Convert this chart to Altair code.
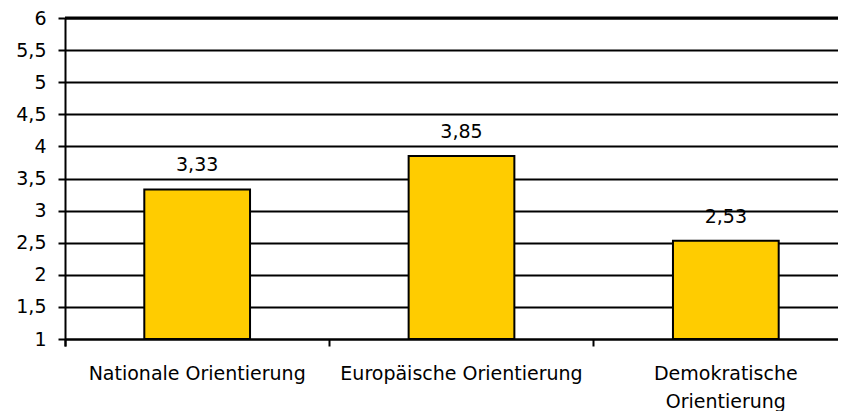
import altair as alt
import pandas as pd

categories = ["Nationale Orientierung", "Europäische Orientierung", "Demokratische Orientierung"]
values = [3.33, 3.85, 2.53]
y_ticks = [1, 1.5, 2, 2.5, 3, 3.5, 4, 4.5, 5, 5.5, 6]

df = pd.DataFrame({"cat": categories, "value": values})

FONT = "DejaVu Sans"
FS = 19

x_axis = alt.Axis(
    title=None,
    labelAngle=0,
    bandPosition=0,
    tickExtra=True,
    ticks=True,
    tickSize=7,
    tickWidth=2,
    tickColor="black",
    domainColor="black",
    domainWidth=2,
    labelFont=FONT,
    labelFontSize=FS,
    labelColor="black",
    labelPadding=18,
    labelLineHeight=28.5,
    labelLimit=400,
    labelOverlap=False,
    grid=False,
    labelExpr="datum.label == 'Demokratische Orientierung' ? ['Demokratische', 'Orientierung'] : datum.label",
)

x_scale = alt.Scale(range=[0, 793], paddingInner=0, paddingOuter=0)

y_axis = alt.Axis(
    title=None,
    values=y_ticks,
    format=".1~f",
    labelExpr="replace(datum.label, '.', ',')",
    labelOverlap=False,
    grid=True,
    gridColor="black",
    gridWidth=2,
    gridOpacity=1,
    tickSize=7,
    tickWidth=2,
    tickColor="black",
    domainColor="black",
    domainWidth=2,
    labelFont=FONT,
    labelFontSize=FS,
    labelColor="black",
    labelPadding=12,
)

y_scale = alt.Scale(domain=[1, 6], zero=False, nice=False)

base = alt.Chart(df)

bars = base.mark_bar(
    color="#FFCC00", stroke="black", strokeWidth=2, width=alt.RelativeBandSize(0.4)
).encode(
    x=alt.X("cat:N", sort=categories, scale=x_scale, axis=x_axis),
    y=alt.Y("value:Q", scale=y_scale, axis=y_axis),
    y2=alt.datum(1),
)

labels = base.transform_calculate(
    txt="replace(format(datum.value, '.2f'), '.', ',')"
).mark_text(
    font=FONT, fontSize=FS, color="black", baseline="alphabetic", dy=-18
).encode(
    x=alt.X("cat:N", sort=categories, scale=x_scale, axis=x_axis),
    y=alt.Y("value:Q", scale=y_scale, axis=y_axis),
    text="txt:N",
)

top_line = alt.Chart(pd.DataFrame({"v": [6]})).mark_rule(color="black", strokeWidth=3).encode(
    y=alt.Y("v:Q", scale=y_scale, axis=y_axis)
)

chart = (
    alt.layer(bars, labels, top_line)
    .properties(
        width=773,
        height=321,
        autosize=alt.AutoSizeParams(type="none"),
        padding={"left": 57, "top": 10, "right": 0, "bottom": 72},
    )
    .configure_view(stroke=None)
    .configure(background="white")
)

chart.save("out.html", embed_options={"renderer": "svg", "actions": False})
